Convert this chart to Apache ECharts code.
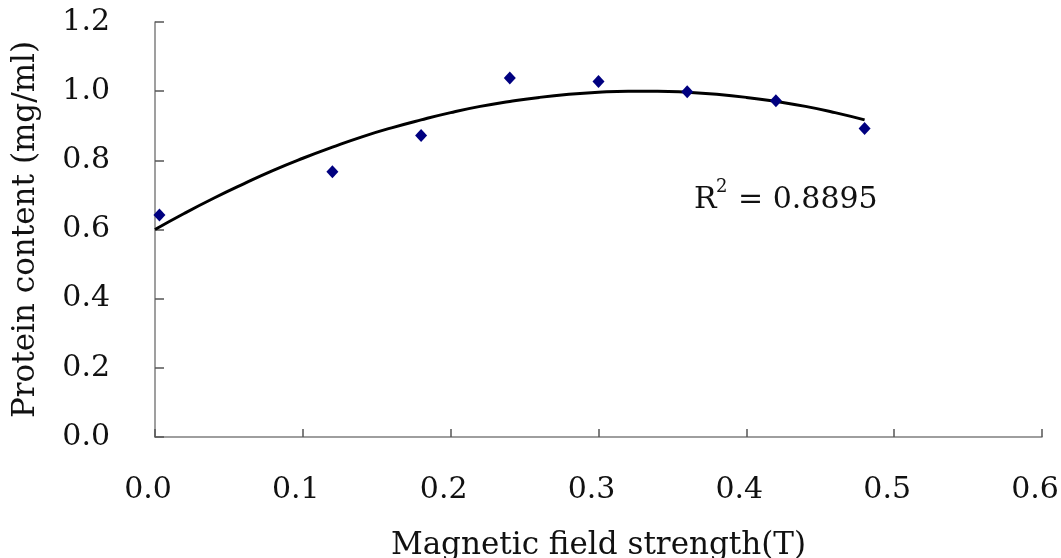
<!DOCTYPE html>
<html><head><meta charset="utf-8">
<script src="https://cdn.jsdelivr.net/npm/echarts@6/dist/echarts.min.js"></script>
<style>html,body{margin:0;padding:0;background:#fff}#c{width:1061px;height:558px}</style>
</head><body><div id="c"></div>
<script>
// Measured points
const fieldStrength = [0.003, 0.12, 0.18, 0.24, 0.30, 0.36, 0.42, 0.48];
const proteinContent = [0.642, 0.767, 0.872, 1.038, 1.028, 0.998, 0.972, 0.892];
// Trendline (2nd order polynomial)
const trendX = [0.00,0.02,0.04,0.06,0.08,0.10,0.12,0.14,0.16,0.18,0.20,0.22,0.24,0.26,0.28,0.30,0.32,0.34,0.36,0.38,0.40,0.42,0.44,0.46,0.48];
const trendY = [0.600,0.647,0.691,0.732,0.771,0.806,0.838,0.868,0.894,0.917,0.938,0.956,0.970,0.982,0.991,0.997,1.000,1.000,0.997,0.991,0.982,0.970,0.956,0.938,0.917];
const xTicks = [0, 0.6, 0.1];
const yTicks = [0, 1.2, 0.2];
const r2Text = '= 0.8895';

const FONT = '"DejaVu Serif", "Liberation Serif", serif';
const chart = echarts.init(document.getElementById('c'));
chart.setOption({
  backgroundColor: '#fff',
  animation: false,
  grid: { left: 155, right: 19, top: 22, bottom: 121, outerBoundsMode: 'none', containLabel: false },
  xAxis: {
    type: 'value', min: xTicks[0], max: xTicks[1], interval: xTicks[2],
    name: 'Magnetic field strength(T)', nameLocation: 'middle', nameGap: 93,
    nameTextStyle: { fontFamily: FONT, fontSize: 31, color: '#111' },
    axisLine: { onZero: false, lineStyle: { color: '#7f7f7f', width: 1.5 } },
    axisTick: { inside: true, length: 8, lineStyle: { color: '#555', width: 1.5 } },
    axisLabel: { margin: 38, fontFamily: FONT, fontSize: 30, color: '#111',
      padding: [0, 14, 0, 0], formatter: v => v.toFixed(1) },
    splitLine: { show: false }
  },
  yAxis: {
    type: 'value', min: yTicks[0], max: yTicks[1], interval: yTicks[2],
    name: 'Protein content (mg/ml)', nameLocation: 'middle', nameGap: 114,
    nameTextStyle: { fontFamily: FONT, fontSize: 31, color: '#111' },
    axisLine: { show: true, onZero: false, lineStyle: { color: '#7f7f7f', width: 1.5 } },
    axisTick: { show: true, inside: true, length: 9, lineStyle: { color: '#555', width: 1.5 } },
    axisLabel: { margin: 45, fontFamily: FONT, fontSize: 30, color: '#111',
      padding: [10, 0, 0, 0], formatter: v => v.toFixed(1) },
    splitLine: { show: false }
  },
  series: [
    {
      type: 'line', data: trendX.map((x, i) => [x, trendY[i]]),
      smooth: true, showSymbol: false, symbol: 'none',
      lineStyle: { color: '#000', width: 3 }, z: 2
    },
    {
      type: 'scatter', data: fieldStrength.map((x, i) => [x, proteinContent[i]]),
      symbol: 'diamond', symbolSize: [12, 13],
      itemStyle: { color: '#000080', opacity: 1 }, z: 3
    }
  ],
  graphic: [
    { type: 'text', left: 694, top: 185, style: { text: 'R', font: '30px ' + FONT, fill: '#111' } },
    { type: 'text', left: 716, top: 178, style: { text: '2', font: '18px ' + FONT, fill: '#111' } },
    { type: 'text', left: 738, top: 185, style: { text: r2Text, font: '30px ' + FONT, fill: '#111' } }
  ]
});
</script></body></html>
